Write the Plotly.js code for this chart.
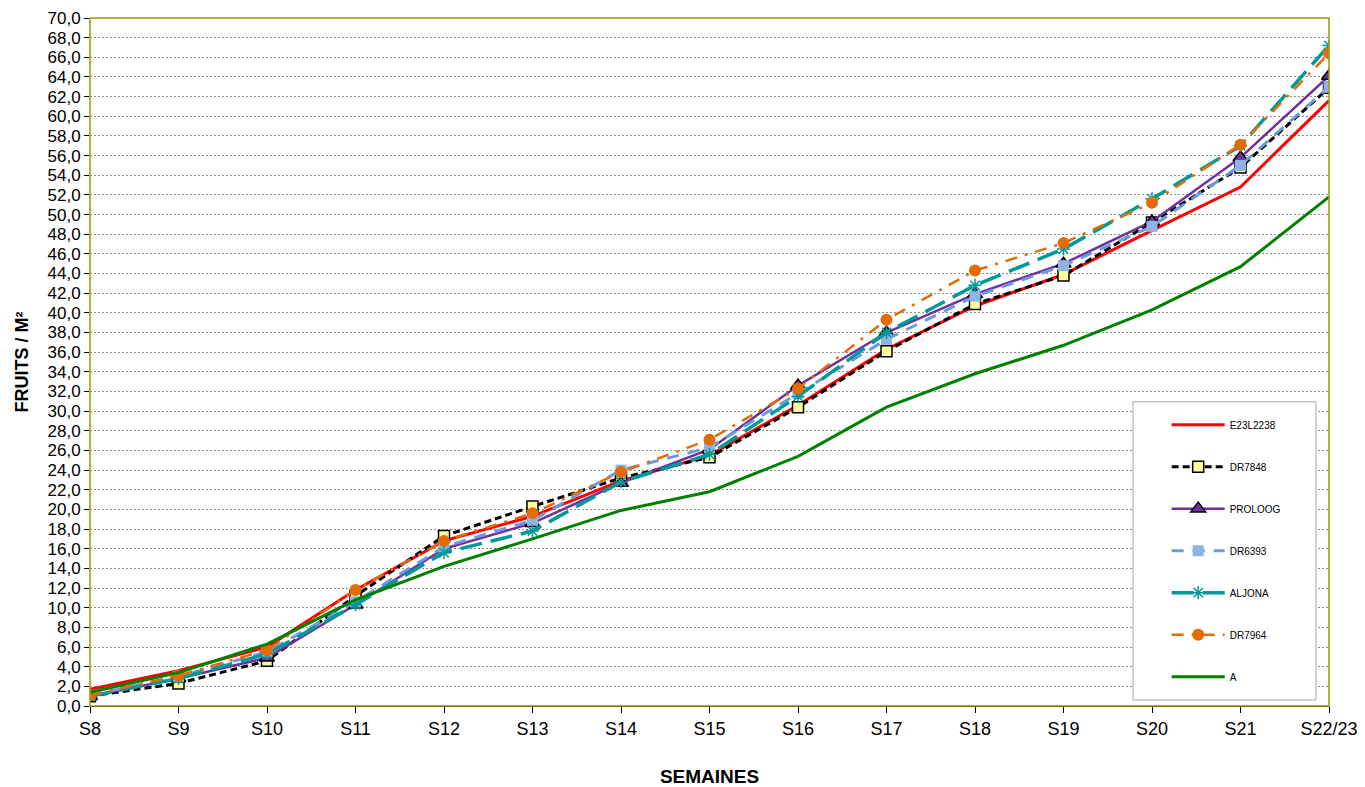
<!DOCTYPE html>
<html>
<head>
<meta charset="utf-8">
<script src="https://cdn.plot.ly/plotly-3.0.1.min.js"></script>
<style>html,body{margin:0;padding:0;background:#fff}#chart{width:1365px;height:787px}</style>
</head>
<body>
<div id="chart"></div>
<script>
const weeks = ["S8","S9","S10","S11","S12","S13","S14","S15","S16","S17","S18","S19","S20","S21","S22/23"];
const e23l2238 = [1.7,3.6,6.0,11.8,16.8,19.3,22.9,25.5,30.6,36.3,40.7,43.9,48.4,52.8,61.6];
const dr7848   = [1.0,2.3,4.6,11.2,17.3,20.3,23.2,25.3,30.4,36.1,40.9,43.8,49.2,54.8,62.9];
const proloog  = [1.0,2.8,4.9,10.3,16.0,18.6,22.7,26.1,32.6,38.0,41.9,45.0,49.3,55.8,64.1];
const dr6393   = [1.1,3.0,5.5,10.6,16.2,18.9,24.0,26.3,31.8,37.3,41.7,44.8,48.8,55.0,63.0];
const aljona   = [1.0,2.8,5.3,10.3,15.6,17.8,22.8,25.6,31.5,38.0,42.8,46.5,51.6,57.0,67.2];
const dr7964   = [1.1,3.1,5.7,11.8,16.8,19.6,23.8,27.1,32.3,39.3,44.3,47.1,51.2,57.1,66.4];
const serieA   = [1.4,3.4,6.3,10.8,14.2,17.0,19.9,21.8,25.4,30.4,33.8,36.7,40.3,44.7,51.8];
const names = ["E23L2238","DR7848","PROLOOG","DR6393","ALJONA","DR7964","A"];
const yTicks = [];
for (let v = 0; v <= 70; v += 2) yTicks.push(v);

const styles = [
  {line:{color:"#ff0000",width:3,dash:"solid"}, mode:"lines"},
  {line:{color:"#000000",width:3,dash:"7px,4px"}, mode:"lines+markers",
   marker:{symbol:"square",size:11,color:"#ffff99",line:{color:"#000",width:1.5}}},
  {line:{color:"#7030a0",width:2.5,dash:"solid"}, mode:"lines+markers",
   marker:{symbol:"triangle-up",size:13,color:"#7030a0",line:{color:"#000",width:1.5}}},
  {line:{color:"#6a9ae0",width:3,dash:"12px,9px"}, mode:"lines+markers",
   marker:{symbol:"square",size:11,color:"#8eb4e3",line:{width:0}}},
  {line:{color:"#009999",width:3.5,dash:"22px,9px"}, mode:"lines+markers",
   marker:{symbol:"asterisk-open",size:11,color:"#009999",line:{color:"#009999",width:1.5}}},
  {line:{color:"#e36c09",width:2.5,dash:"12px,8px,3px,8px"}, mode:"lines+markers",
   marker:{symbol:"circle",size:12,color:"#e36c09",line:{width:0}}},
  {line:{color:"#008000",width:3,dash:"solid"}, mode:"lines"}
];
const series = [e23l2238,dr7848,proloog,dr6393,aljona,dr7964,serieA];

const traces = series.map((ys,i)=>Object.assign({
  type:"scatter", x:weeks, y:ys, name:names[i], legendgroup:"g"+i
}, styles[i]));

const layout = {
  width:1365, height:787,
  margin:{l:90,r:36,t:18,b:81},
  paper_bgcolor:"#fff", plot_bgcolor:"#fff",
  separators:", ",
  font:{family:"Liberation Sans, Arial, sans-serif", color:"#000"},
  showlegend:true,
  legend:{
    x:0.869, xanchor:"left", y:0.43, yanchor:"top",
    bgcolor:"rgba(0,0,0,0)", borderwidth:0,
    font:{size:10, family:"Liberation Sans, Arial, sans-serif"},
    tracegroupgap:23, traceorder:"grouped", itemwidth:53
  },
  xaxis:{
    type:"category", range:[0,14], showgrid:false,
    ticks:"outside", ticklen:6, tickcolor:"#000",
    tickfont:{size:18}, zeroline:false,
    showline:true, linecolor:"#000", linewidth:1,
    title:{text:"<b>SEMAINES</b>", font:{size:19}, standoff:36}
  },
  yaxis:{
    range:[0,70], tickvals:yTicks, tickformat:".1f",
    ticks:"outside", ticklen:5, tickcolor:"#000",
    tickfont:{size:17}, zeroline:false,
    showgrid:true, gridcolor:"#8c8c8c", griddash:"2px,2px", gridwidth:1,
    showline:false,
    title:{text:"<b>FRUITS / M²</b>", font:{size:18}, standoff:14}
  },
  shapes:[
    {type:"rect", xref:"paper", yref:"paper", x0:0, x1:1, y0:0, y1:1,
     line:{color:"#999900", width:1.5}, fillcolor:"rgba(0,0,0,0)", layer:"above"},
    {type:"rect", xref:"paper", yref:"paper", x0:0.8418, x1:0.9895, y0:0.0087, y1:0.4422,
     line:{color:"#a6a6a6", width:1}, fillcolor:"#ffffff", layer:"above"}
  ]
};
Plotly.newPlot("chart", traces, layout, {displayModeBar:false, staticPlot:true});
</script>
</body>
</html>
